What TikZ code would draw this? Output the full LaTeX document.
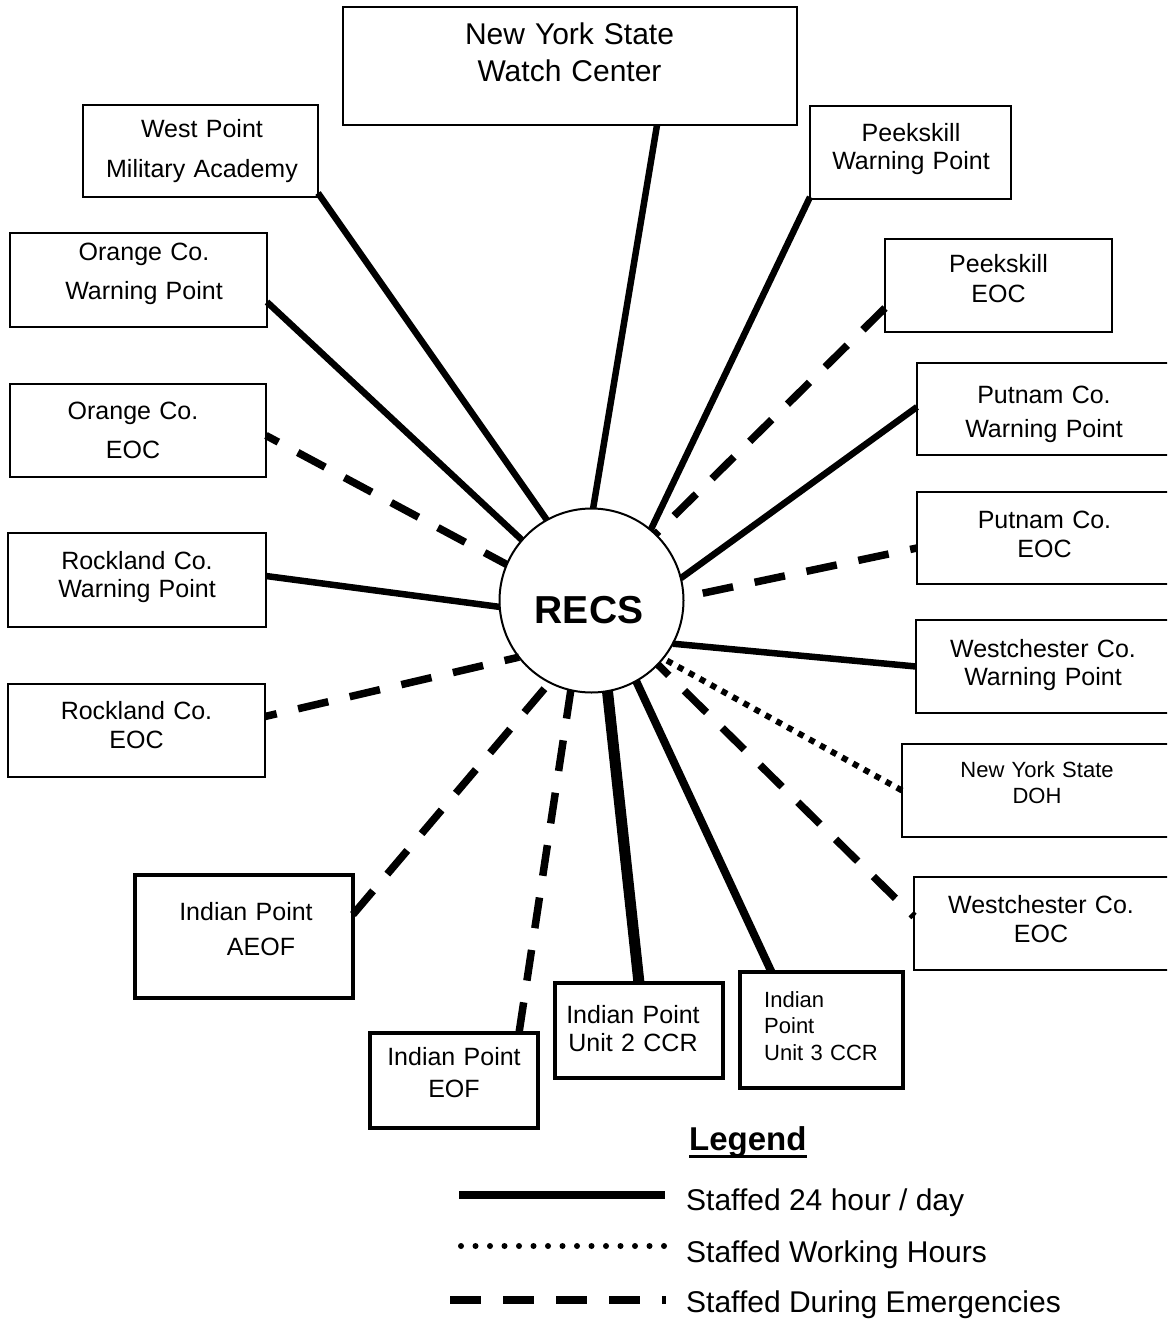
\documentclass[tikz,border=0pt]{standalone}
\usepackage{fontspec}
\setmainfont{Liberation Sans}
\usetikzlibrary{calc}
\tikzset{
  box/.style={draw, rectangle, line width=2pt, inner sep=0pt, outer sep=0pt},
  heavybox/.style={draw, rectangle, line width=4.5pt, inner sep=0pt, outer sep=0pt},
  lbl/.style={inner sep=0pt, anchor=base, align=center, text width=280pt, font=\fontsize{25}{28}\selectfont},
  lblleft/.style={inner sep=0pt, anchor=base west, align=left, text width=150pt},
  full/.style={line width=6.5pt},
  emerg/.style={line width=7.5pt, dash pattern=on 31pt off 22pt},
  work/.style={line width=6pt, dash pattern=on 6pt off 6.5pt},
  legdots/.style={line width=6pt, line cap=round, dash pattern=on 0pt off 14.5pt},
  legtxt/.style={inner sep=0pt, anchor=base west, font=\fontsize{30}{36}\selectfont}
}
\begin{document}
\begin{tikzpicture}[x=1pt, y=-1pt]
\useasboundingbox (0,0) rectangle (1167,1321);
\clip (0,0) rectangle (1167,1321);
\fill[white] (0,0) rectangle (1167,1321);

% boxes
\node[box, minimum width=454pt, minimum height=118pt] (watch) at (570,66) {};
\node[box, minimum width=235pt, minimum height=92pt] (wp) at (200.5,151) {};
\node[box, minimum width=257pt, minimum height=94pt] (owp) at (138.5,280) {};
\node[box, minimum width=256pt, minimum height=93pt] (oeoc) at (138,430.5) {};
\node[box, minimum width=258pt, minimum height=94pt] (rwp) at (137,580) {};
\node[box, minimum width=257pt, minimum height=93pt] (reoc) at (136.5,730.5) {};
\node[heavybox, minimum width=218pt, minimum height=123pt] (aeof) at (244,936.5) {};
\node[heavybox, minimum width=168pt, minimum height=95pt] (eof) at (454,1080.5) {};
\node[heavybox, minimum width=168pt, minimum height=95pt] (u2) at (639,1030.5) {};
\node[heavybox, minimum width=163pt, minimum height=116pt] (u3) at (821.5,1030) {};
\node[box, minimum width=201pt, minimum height=93pt] (pwp) at (910.5,152.5) {};
\node[box, minimum width=227pt, minimum height=93pt] (peoc) at (998.5,285.5) {};
\node[box, minimum width=253pt, minimum height=92pt] (puwp) at (1043.5,409) {};
\node[box, minimum width=253pt, minimum height=92pt] (pueoc) at (1043.5,538) {};
\node[box, minimum width=254pt, minimum height=93pt] (wwp) at (1043,666.5) {};
\node[box, minimum width=268pt, minimum height=93pt] (doh) at (1036,790.5) {};
\node[box, minimum width=256pt, minimum height=93pt] (weoc) at (1042,923.5) {};

% texts
\node[lbl, font=\fontsize{30}{37}\selectfont] (watch-t) at (569.5,45) {New York State\\Watch Center};
\node[lbl, font=\fontsize{25}{40}\selectfont] (wp-t) at (202,138) {West Point\\Military Academy};
\node[lbl, font=\fontsize{25}{39}\selectfont] (owp-t) at (144,261) {Orange Co.\\Warning Point};
\node[lbl, font=\fontsize{25}{39}\selectfont] (oeoc-t) at (133,419) {Orange Co.\\EOC};
\node[lbl, font=\fontsize{25}{28}\selectfont] (rwp-t) at (137,569) {Rockland Co.\\Warning Point};
\node[lbl, font=\fontsize{25}{29}\selectfont] (reoc-t) at (136.5,719) {Rockland Co.\\EOC};
\node[lbl, font=\fontsize{25}{35}\selectfont] (aeof-t) at (246,920) {Indian Point\\\hspace*{30pt}AEOF};
\node[lbl, font=\fontsize{25}{32}\selectfont] (eof-t) at (454,1065) {Indian Point\\EOF};
\node[lbl, font=\fontsize{25}{28}\selectfont] (u2-t) at (633,1023) {Indian Point\\Unit 2 CCR};
\node[lblleft, font=\fontsize{22}{26.5}\selectfont] (u3-t) at (764,1007) {Indian\\Point\\Unit 3 CCR};
\node[lbl, font=\fontsize{25}{28}\selectfont] (pwp-t) at (911,142) {Peekskill\\Warning Point};
\node[lbl, font=\fontsize{25}{29}\selectfont] (peoc-t) at (998.5,273) {Peekskill\\EOC};
\node[lbl, font=\fontsize{25}{34}\selectfont] (puwp-t) at (1044,403) {Putnam Co.\\Warning Point};
\node[lbl, font=\fontsize{25}{29}\selectfont] (pueoc-t) at (1044.5,528) {Putnam Co.\\EOC};
\node[lbl, font=\fontsize{25}{28}\selectfont] (wwp-t) at (1043,657) {Westchester Co.\\Warning Point};
\node[lbl, font=\fontsize{22}{26}\selectfont] (doh-t) at (1037,777) {New York State\\DOH};
\node[lbl, font=\fontsize{25}{29}\selectfont] (weoc-t) at (1041,913) {Westchester Co.\\EOC};

% RECS hub
\node[draw, circle, line width=2pt, minimum size=184pt, inner sep=0pt, outer sep=0pt, fill=white] (RECS) at (591.5,600.5) {};
\node[inner sep=0pt, font=\bfseries\fontsize{39}{44}\selectfont] (RECS-t) at (589,610) {RECS};

% connectors
\draw[full] ($(watch.south)+(87,0)$) -- (RECS.89);
\draw[full] ($(wp.south east)+(0,-4)$) -- (RECS.119);
\draw[full] ($(owp.east)+(0,22)$) -- (RECS.139);
\draw[emerg, dash phase=17pt] ($(oeoc.east)+(0,5)$) -- (RECS.157);
\draw[full] ($(rwp.east)+(0,-4)$) -- (RECS.184);
\draw[emerg, dash phase=19pt] ($(reoc.east)+(0,-14)$) -- (RECS.218);
\draw[emerg] ($(aeof.east)+(0,-22)$) -- (RECS.243);
\draw[emerg] ($(eof.north)+(65,0)$) -- (RECS.257);
\draw[full, line width=11pt] (u2.north) -- (RECS.280);
\draw[full, line width=8pt] ($(u3.north)+(-50,0)$) -- (RECS.299);
\draw[emerg, dash phase=27pt] ($(weoc.west)+(0,-7)$) -- (RECS.316);
\draw[work] (doh.west) -- (RECS.321);
\draw[full] (wwp.west) -- (RECS.332);
\draw[emerg, dash phase=24pt] ($(pueoc.west)+(0,10)$) -- (RECS.2);
\draw[full] ($(puwp.west)+(0,-2)$) -- (RECS.14);
\draw[emerg] ($(peoc.west)+(0,22.5)$) -- (RECS.46);
\draw[full] ($(pwp.south west)+(0,-2)$) -- (RECS.50);

% legend
\node[inner sep=0pt, anchor=base west, font=\bfseries\fontsize{33}{40}\selectfont] (legend) at (689,1150) {Legend};
\draw[line width=3pt] ($(legend.base west)+(0,6)$) -- ($(legend.base east)+(0,6)$);
\node[legtxt] (leg1) at (686,1210) {Staffed 24 hour / day};
\node[legtxt] (leg2) at (686,1262) {Staffed Working Hours};
\node[legtxt] (leg3) at (686,1312) {Staffed During Emergencies};
\coordinate (l1a) at (459,1195);
\coordinate (l1b) at (665,1195);
\coordinate (l2a) at (461,1246);
\coordinate (l2b) at (664,1246);
\coordinate (l3a) at (450,1300);
\coordinate (l3b) at (666,1300);
\draw[full, line width=7.5pt] (l1a) -- (l1b);
\draw[legdots] (l2a) -- (l2b);
\draw[emerg, line width=8pt] (l3a) -- (l3b);
\end{tikzpicture}
\end{document}
